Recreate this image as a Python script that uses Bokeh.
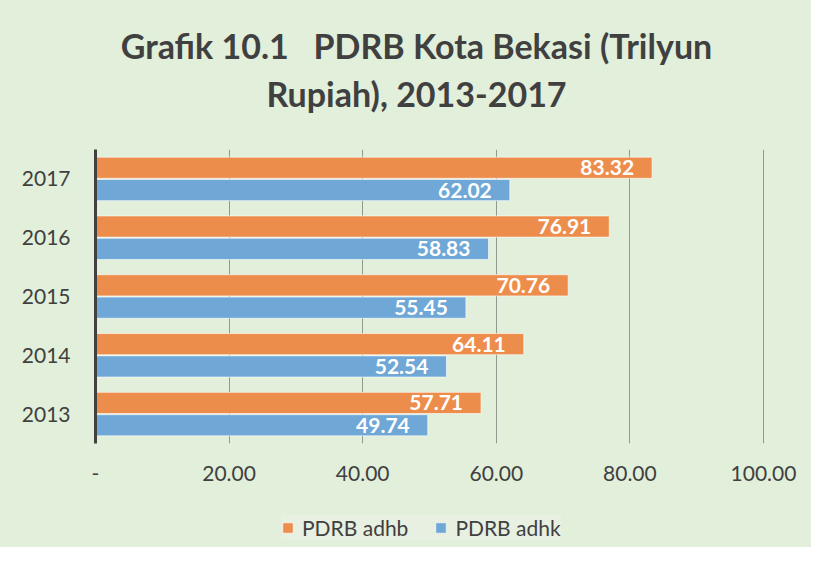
from bokeh.plotting import figure
from bokeh.models import (ColumnDataSource, Range1d, FactorRange, Legend, LegendItem,
                          FixedTicker, LabelSet, Label)
from bokeh.layouts import column
from bokeh.core.properties import value
from bokeh.transform import dodge
from bokeh.embed import file_html
from bokeh.resources import INLINE

years = ["2013", "2014", "2015", "2016", "2017"]
adhb = [57.71, 64.11, 70.76, 76.91, 83.32]
adhk = [49.74, 52.54, 55.45, 58.83, 62.02]
series_names = ["PDRB adhb", "PDRB adhk"]
x_ticks = [0, 20, 40, 60, 80, 100]
x_tick_labels = ["-", "20.00", "40.00", "60.00", "80.00", "100.00"]
title_lines = ["Grafik 10.1\u00a0\u00a0\u00a0PDRB Kota Bekasi (Trilyun", "Rupiah), 2013-2017"]

BG = "#e2efda"
ORANGE = "#ed8d4c"
BLUE = "#6fa7d6"
TXT = "#404040"
FONT = "Lato"
W = 811
H_TITLE, H_MAIN, H_LEG = 149, 344, 54
FRAME_LEFT, FRAME_RIGHT = 95, 46


def blank_fig(h):
    f = figure(width=W, height=h, output_backend="svg", toolbar_location=None,
               x_axis_location=None, y_axis_location=None,
               x_range=Range1d(0, 1), y_range=Range1d(0, 1),
               background_fill_color=BG, border_fill_color=BG, min_border=0,
               min_border_left=FRAME_LEFT, min_border_right=FRAME_RIGHT)
    f.outline_line_color = None
    f.grid.grid_line_color = None
    return f


# ---- title ----
tf = blank_fig(H_TITLE)
for txt, yy in zip(title_lines, [H_TITLE - 45, H_TITLE - 93]):
    tf.add_layout(Label(x=416 - FRAME_LEFT, y=yy, x_units="screen", y_units="screen", text=txt,
                        text_align="center", text_baseline="middle", text_font=FONT,
                        text_font_size="34px", text_font_style="bold", text_color=TXT))

# ---- main chart ----
src = ColumnDataSource(dict(
    year=years, adhb=adhb, adhk=adhk,
    adhb_lbl=[f"{v:.2f}" for v in adhb],
    adhk_lbl=[f"{v:.2f}" for v in adhk],
))

p = figure(width=W, height=H_MAIN, output_backend="svg", toolbar_location=None,
           y_range=FactorRange(*years), x_range=Range1d(0, 100.3),
           background_fill_color=BG, border_fill_color=BG,
           min_border_left=FRAME_LEFT, min_border_right=FRAME_RIGHT,
           min_border_top=0, min_border_bottom=50)
p.outline_line_color = None

off = 0.19
h = 0.36
r1 = p.hbar(y=dodge("year", off, range=p.y_range), right="adhb", left=0, height=h, source=src,
            fill_color=ORANGE, line_color="white", line_alpha=0.6, line_width=1)
r2 = p.hbar(y=dodge("year", -off, range=p.y_range), right="adhk", left=0, height=h, source=src,
            fill_color=BLUE, line_color="white", line_alpha=0.6, line_width=1)

for col, lbl, o in [("adhb", "adhb_lbl", off), ("adhk", "adhk_lbl", -off)]:
    ls = LabelSet(x=col, y=dodge("year", o, range=p.y_range), text=lbl, source=src,
                  x_offset=-18, text_align="right", text_baseline="middle",
                  text_color="white", text_font=value(FONT), text_font_style="bold",
                  text_font_size="21px")
    p.add_layout(ls)

p.xaxis.ticker = FixedTicker(ticks=x_ticks)
p.xaxis.major_label_overrides = {t: l for t, l in zip(x_ticks, x_tick_labels)}
p.xaxis.axis_line_color = None
p.xaxis.major_tick_line_color = None
p.xaxis.minor_tick_line_color = None
p.xaxis.major_tick_out = 0
p.xaxis.major_tick_in = 0
p.xaxis.major_label_standoff = 22
p.xaxis.major_label_text_font = FONT
p.xaxis.major_label_text_font_size = "21px"
p.xaxis.major_label_text_color = TXT

p.yaxis.axis_line_color = TXT
p.yaxis.axis_line_width = 3
p.yaxis.major_tick_line_color = None
p.yaxis.minor_tick_line_color = None
p.yaxis.major_tick_out = 0
p.yaxis.major_tick_in = 0
p.yaxis.major_label_standoff = 25
p.yaxis.major_label_text_font = FONT
p.yaxis.major_label_text_font_size = "21px"
p.yaxis.major_label_text_color = TXT

p.xgrid.ticker = FixedTicker(ticks=x_ticks[1:])
p.xgrid.grid_line_color = "#919a8f"
p.xgrid.grid_line_width = 1
p.ygrid.grid_line_color = None

# ---- legend (proxy glyphs lie outside the legend figure's visible range) ----
lf = blank_fig(H_LEG)
l1 = lf.hbar(y="adhb", right="adhb", left="adhb", height=0.1, source=src,
             fill_color=ORANGE, line_color="white", line_alpha=0.6)
l2 = lf.hbar(y="adhk", right="adhk", left="adhk", height=0.1, source=src,
             fill_color=BLUE, line_color="white", line_alpha=0.6)
legend = Legend(items=[LegendItem(label=series_names[0], renderers=[l1], index=0),
                       LegendItem(label=series_names[1], renderers=[l2], index=0)],
                orientation="horizontal", location=(186, 7),
                background_fill_color="#e8f0e2", background_fill_alpha=1,
                border_line_color=None, label_text_font=FONT, label_text_font_size="21px",
                label_text_color=TXT, glyph_width=13, glyph_height=13, spacing=26,
                label_standoff=8, padding=10, margin=0)
lf.add_layout(legend)

layout = column(tf, p, lf, spacing=0, styles={"background-color": BG})
open("out.html", "w").write(file_html(layout, INLINE))
